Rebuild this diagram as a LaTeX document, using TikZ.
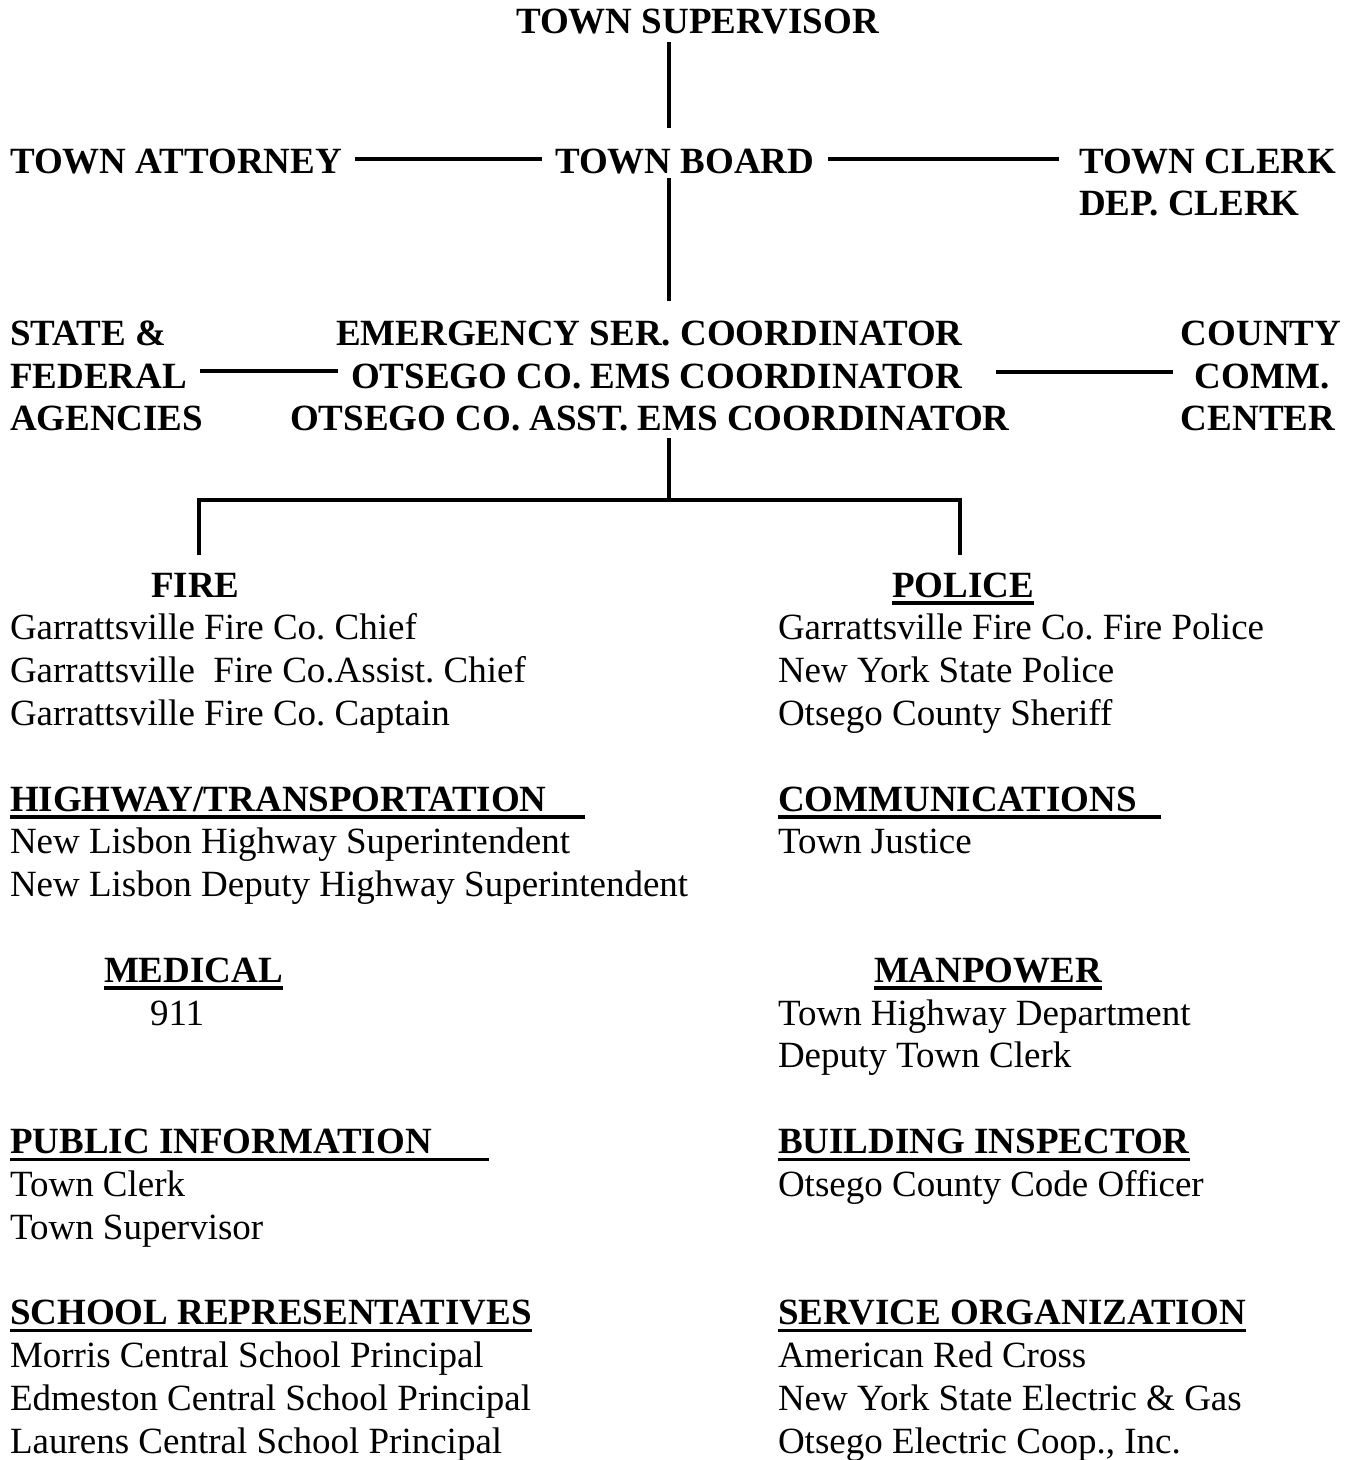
\documentclass[tikz,border=0pt]{standalone}
\usepackage{fontspec}
\setmainfont{Liberation Serif}
\frenchspacing
\begin{document}
\begin{tikzpicture}[x=1pt,y=-1pt,
  lbl/.style={inner sep=0pt, outer sep=0pt, anchor=base west, font=\fontsize{37}{43}\selectfont\frenchspacing},
  hd/.style={lbl, font=\fontsize{37}{43}\selectfont\bfseries\frenchspacing},
  conn/.style={line width=4.5pt, line cap=butt},
  uline/.style={line width=3.5pt}]
\useasboundingbox[fill=white] (0,0) rectangle (1359,1460);
% top hierarchy
\node[hd] (sup) at (516,33) {TOWN SUPERVISOR};
\node[hd] (att) at (10,173) {TOWN ATTORNEY};
\node[hd] (board) at (555,173) {TOWN BOARD};
\node[hd] (clerk) at (1079,173) {TOWN CLERK};
\node[hd] (depclerk) at (1079,215) {DEP. CLERK};
\node[hd] (state) at (10,345) {STATE \&};
\node[hd] (fed) at (10,388) {FEDERAL};
\node[hd] (agen) at (10,430) {AGENCIES};
\node[hd] (esc1) at (336,345) {EMERGENCY SER. COORDINATOR};
\node[hd] (esc2) at (351,388) {OTSEGO CO. EMS COORDINATOR};
\node[hd] (esc3) at (290,430) {OTSEGO CO. ASST. EMS COORDINATOR};
\node[hd, anchor=base] (county) at (1261,345) {COUNTY};
\node[hd, anchor=base] (comm) at (1262,388) {COMM.};
\node[hd, anchor=base] (ctr) at (1258,430) {CENTER};
\coordinate (spine) at (669,0);
\coordinate (brk) at (669,500);
\coordinate (lf) at (199,553);
\coordinate (rf) at (960,553);
% connectors
\draw[conn] ([yshift=-9pt]sup.base -| spine) -- ([yshift=45pt]board.base -| spine);
\draw[conn] ([xshift=13pt,yshift=14pt]att.base east) -- ([xshift=-13pt,yshift=14pt]board.base west);
\draw[conn] ([xshift=14pt,yshift=14pt]board.base east) -- ([xshift=-20pt,yshift=14pt]clerk.base west);
\draw[conn] ([yshift=-5pt]board.base -| spine) -- ([yshift=44pt]esc1.base -| spine);
\draw[conn] ([xshift=13pt,yshift=17pt]fed.base east) -- ([xshift=-13pt,yshift=17pt]esc2.base west);
\draw[conn] ([xshift=34pt,yshift=16pt]esc2.base east) -- ([xshift=-22pt,yshift=16pt]comm.base west);
\draw[conn] ([yshift=-8pt]esc3.base -| spine) -- (brk);
\draw[conn, line cap=rect] (lf) -- (lf |- brk) -- (rf |- brk) -- (rf);
% left column
\node[hd] (fire) at (151,597) {FIRE};
\node[lbl] (f1) at (10,639.8) {Garrattsville Fire Co. Chief};
\node[lbl] (f2) at (10,682.6) {Garrattsville\ \ Fire Co.Assist. Chief};
\node[lbl] (f3) at (10,725.4) {Garrattsville Fire Co. Captain};
\node[hd] (hw) at (10,811) {HIGHWAY/TRANSPORTATION};
\node[lbl] (h1) at (10,853.8) {New Lisbon Highway Superintendent};
\node[lbl] (h2) at (10,896.6) {New Lisbon Deputy Highway Superintendent};
\node[hd] (med) at (104,982.2) {MEDICAL};
\node[lbl] (m1) at (150,1025) {911};
\node[hd] (pub) at (10,1153.4) {PUBLIC INFORMATION};
\node[lbl] (p1) at (10,1196.2) {Town Clerk};
\node[lbl] (p2) at (10,1239) {Town Supervisor};
\node[hd] (sch) at (10,1324.6) {SCHOOL REPRESENTATIVES};
\node[lbl] (s1) at (10,1367.4) {Morris Central School Principal};
\node[lbl] (s2) at (10,1410.2) {Edmeston Central School Principal};
\node[lbl] (s3) at (10,1453) {Laurens Central School Principal};
% right column
\node[hd] (pol) at (892,597) {POLICE};
\node[lbl] (po1) at (778,639.8) {Garrattsville Fire Co. Fire Police};
\node[lbl] (po2) at (778,682.6) {New York State Police};
\node[lbl] (po3) at (778,725.4) {Otsego County Sheriff};
\node[hd] (com) at (778,811) {COMMUNICATIONS};
\node[lbl] (c1) at (778,853.8) {Town Justice};
\node[hd] (man) at (874,982.2) {MANPOWER};
\node[lbl] (mp1) at (778,1025) {Town Highway Department};
\node[lbl] (mp2) at (778,1067.8) {Deputy Town Clerk};
\node[hd] (bld) at (778,1153.4) {BUILDING INSPECTOR};
\node[lbl] (b1) at (778,1196.2) {Otsego County Code Officer};
\node[hd] (svc) at (778,1324.6) {SERVICE ORGANIZATION};
\node[lbl] (sv1) at (778,1367.4) {American Red Cross};
\node[lbl] (sv2) at (778,1410.2) {New York State Electric \& Gas};
\node[lbl] (sv3) at (778,1453) {Otsego Electric Coop., Inc.};
% underlines
\draw[uline] ([yshift=-6pt]pol.base west) -- ([yshift=-6pt]pol.base east);
\draw[uline] ([yshift=-6pt]hw.base west) -- ++(575,0);
\draw[uline] ([yshift=-6pt]com.base west) -- ++(383,0);
\draw[uline] ([yshift=-6pt]med.base west) -- ([yshift=-6pt]med.base east);
\draw[uline] ([yshift=-6pt]man.base west) -- ([yshift=-6pt]man.base east);
\draw[uline] ([yshift=-6pt]pub.base west) -- ++(479,0);
\draw[uline] ([yshift=-6pt]bld.base west) -- ([yshift=-6pt]bld.base east);
\draw[uline] ([yshift=-6pt]sch.base west) -- ([yshift=-6pt]sch.base east);
\draw[uline] ([yshift=-6pt]svc.base west) -- ([yshift=-6pt]svc.base east);
\end{tikzpicture}
\end{document}
